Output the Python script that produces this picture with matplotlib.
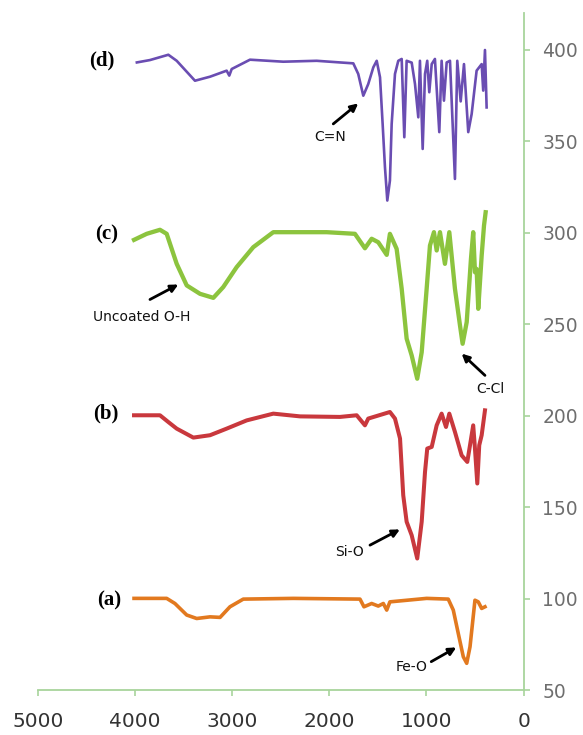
import matplotlib
matplotlib.use("Agg")
import matplotlib.pyplot as plt

# FTIR spectra, stacked with vertical offsets (a) -> (d)
wn_a = [4009, 3673, 3588, 3467, 3364, 3227, 3124, 3022, 2885, 2370, 1684, 1643,
        1564, 1496, 1444, 1409, 1376, 998, 776, 724, 673, 621, 586, 552, 501,
        467, 432, 398]
tr_a = [100.1, 100.1, 97.3, 91.0, 89.1, 90.0, 89.7, 95.5, 99.7, 100.1, 99.7, 95.5,
        97.3, 95.9, 97.3, 93.7, 98.2, 100.1, 99.7, 93.7, 81.0, 68.2, 64.6, 73.6,
        99.1, 98.2, 94.6, 95.5]

wn_b = [4009, 3742, 3656, 3570, 3399, 3227, 3056, 2850, 2576, 2301, 1890, 1718,
        1633, 1599, 1376, 1324, 1272, 1239, 1204, 1152, 1095, 1049, 1015, 992,
        946, 895, 844, 799, 765, 707, 638, 580, 552, 519, 501, 477, 457, 432, 398]
tr_b = [200.2, 200.2, 196.5, 192.9, 188.0, 189.3, 192.9, 197.4, 201.1, 199.6, 199.3, 200.2,
        194.7, 198.4, 202.0, 198.4, 187.5, 156.5, 142.0, 134.6, 121.9, 142.0, 169.2, 182.0,
        182.9, 194.7, 201.1, 193.8, 201.1, 191.1, 178.3, 174.7, 183.8, 194.7, 182.0, 162.9,
        183.8, 189.3, 202.9]

wn_c = [4009, 3879, 3742, 3673, 3570, 3467, 3330, 3193, 3091, 2953, 2782, 2576,
        2370, 2027, 1736, 1633, 1564, 1496, 1409, 1376, 1307, 1255, 1204, 1152,
        1095, 1049, 998, 964, 923, 895, 861, 810, 765, 707, 655, 628, 586, 542,
        519, 501, 484, 467, 432, 408, 391]
tr_c = [296.1, 299.4, 301.6, 299.4, 283.0, 271.2, 266.6, 264.4, 270.3, 281.2, 292.1, 300.3,
        300.3, 300.3, 299.4, 291.5, 296.7, 294.8, 287.9, 299.4, 291.2, 269.4, 242.1, 232.9,
        220.2, 234.7, 269.4, 293.0, 300.3, 290.3, 300.3, 283.0, 300.3, 269.4, 249.3, 239.3,
        251.1, 285.8, 300.3, 278.4, 280.2, 258.4, 287.5, 303.9, 311.2]

wn_d = [3980, 3845, 3656, 3570, 3382, 3227, 3056, 3029, 3004, 2816, 2473, 2130,
        1890, 1753, 1702, 1650, 1599, 1547, 1512, 1478, 1451, 1427, 1403, 1376,
        1358, 1324, 1290, 1255, 1228, 1204, 1152, 1118, 1084, 1067, 1039, 1015,
        992, 971, 946, 913, 868, 844, 820, 792, 758, 707, 683, 648, 614, 570,
        535, 484, 432, 416, 398, 381]
tr_d = [393.1, 394.4, 397.3, 394.0, 383.1, 385.3, 388.6, 385.9, 389.5, 394.6, 393.5, 394.0,
        393.1, 392.6, 386.8, 374.9, 381.3, 390.4, 394.0, 385.0, 359.5, 335.8, 317.6, 328.5,
        359.5, 386.8, 394.0, 395.0, 352.2, 394.0, 393.0, 381.3, 363.1, 394.0, 345.8, 386.8,
        394.0, 376.8, 392.2, 395.0, 355.0, 394.0, 372.2, 393.1, 394.0, 329.4, 394.0, 371.8,
        392.2, 355.0, 364.9, 388.6, 392.2, 377.7, 399.9, 368.5]

x_ticks = [5000, 4000, 3000, 2000, 1000, 0]
y_ticks = [50, 100, 150, 200, 250, 300, 350, 400]

AXIS_GREEN = "#a8d49c"

fig = plt.figure(figsize=(5.83, 7.35), dpi=100)
ax = fig.add_axes([0.0647, 0.0612, 0.8335, 0.9208])

ax.plot(wn_a, tr_a, color="#e2791f", lw=2.6, solid_joinstyle="round")
ax.plot(wn_b, tr_b, color="#c9383d", lw=2.9, solid_joinstyle="round")
ax.plot(wn_c, tr_c, color="#8cc43e", lw=3.1, solid_joinstyle="round")
ax.plot(wn_d, tr_d, color="#6a4db2", lw=1.9, solid_joinstyle="round")

ax.set_xlim(5000, 0)
ax.set_ylim(50, 420)
ax.set_xticks(x_ticks)
ax.set_yticks(y_ticks)

for side in ("top", "left"):
    ax.spines[side].set_visible(False)
for side in ("bottom", "right"):
    ax.spines[side].set_color(AXIS_GREEN)
    ax.spines[side].set_linewidth(1.3)

ax.yaxis.tick_right()
ax.tick_params(axis="x", direction="out", length=4.5, width=1.2, color=AXIS_GREEN,
               labelsize=14.5, labelcolor="#333333", pad=11)
ax.tick_params(axis="y", direction="out", length=4.5, width=1.2, color=AXIS_GREEN,
               labelsize=13.5, labelcolor="#6e6e6e", pad=9)

# panel letters
panel_font = dict(family="Liberation Serif", fontweight="bold", fontsize=15,
                  ha="center", va="center")
ax.text(4345, 394, "(d)", **panel_font)
ax.text(4290, 299, "(c)", **panel_font)
ax.text(4300, 201, "(b)", **panel_font)
ax.text(4265, 99, "(a)", **panel_font)

# band assignments: label text plus a short arrow to the band
arrow = dict(arrowstyle="-|>", color="black", lw=2.0, mutation_scale=11,
             shrinkA=0, shrinkB=0)
note_font = dict(fontsize=10, ha="center", va="center", color="#111111")
bands = [
    ("C=N", (1992, 352.2), (1959, 359.5), (1702, 370.7)),
    ("Uncoated O-H", (3930, 253.9), (3845, 263.5), (3553, 271.7)),
    ("C-Cl", (347, 214.8), (398, 222.0), (638, 233.9)),
    ("Si-O", (1794, 125.5), (1581, 129.2), (1273, 137.8)),
    ("Fe-O", (1156, 62.7), (951, 65.5), (693, 73.3)),
]
for label, text_pos, tail, head in bands:
    ax.text(*text_pos, label, **note_font)
    ax.annotate("", xy=head, xytext=tail, arrowprops=arrow)

fig.savefig("out.png", dpi=100)
